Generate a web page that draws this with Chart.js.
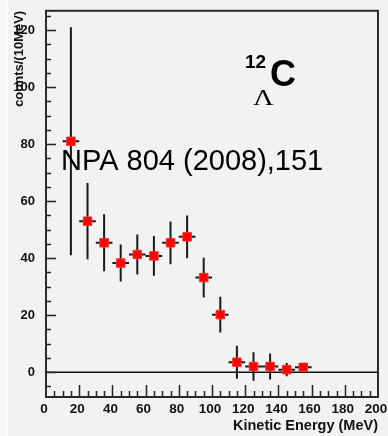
<!DOCTYPE html>
<html lang="en">
<head>
    <meta charset="UTF-8">
    <title>Lambda 12C kinetic energy spectrum</title>
    <script src="https://cdn.jsdelivr.net/npm/chart.js"></script>
    <style>
        body { margin: 0; background: #f2f2f2; }
        #wrap { position: relative; width: 388px; height: 436px; }
        #edge { position: absolute; left: 0; top: 0; width: 7px; height: 436px; background: #f7f7f7; border-right: 1px solid #ffffff; }
        canvas { position: absolute; left: 0; top: 0; }
    </style>
</head>
<body>
    <div id="wrap">
        <div id="edge"></div>
        <canvas id="spectrum" width="388" height="436"></canvas>
    </div>

    <script>
        // bin centers (MeV), counts per 10 MeV and their errors
        const energy = [15, 25, 35, 45, 55, 65, 75, 85, 95, 105, 115, 125, 135, 145, 155];
        const counts = [81, 53, 45.4, 38.3, 41.3, 40.8, 45.4, 47.5, 33.2, 20.2, 3.5, 2.0, 2.0, 0.9, 1.7];
        const errors = [40, 13.4, 10, 6.5, 7, 7, 7.5, 7.5, 7, 6.3, 5.8, 5, 4.6, 2.3, 1.2];
        const binHalfWidth = 5;

        // axis tick labels
        const xTicks = [0, 20, 40, 60, 80, 100, 120, 140, 160, 180, 200];
        const yTicks = [0, 20, 40, 60, 80, 100, 120];

        const points = energy.map((e, i) => ({ x: e, y: counts[i] }));
        const sans = '"Liberation Sans", Arial, sans-serif';

        // ROOT style: inward ticks, frame, zero line, error bars, labels
        const rootStyle = {
            id: 'rootStyle',
            beforeDatasetsDraw(chart) {
                const { ctx, chartArea: a, scales: { x, y } } = chart;
                ctx.save();

                // zero line
                ctx.strokeStyle = '#111';
                ctx.lineWidth = 1.5;
                ctx.beginPath();
                ctx.moveTo(a.left, y.getPixelForValue(0));
                ctx.lineTo(a.right, y.getPixelForValue(0));
                ctx.stroke();

                // error bars
                ctx.strokeStyle = '#1a1a1a';
                ctx.lineWidth = 2;
                energy.forEach((e, i) => {
                    const px = x.getPixelForValue(e);
                    const py = y.getPixelForValue(counts[i]);
                    ctx.beginPath();
                    ctx.moveTo(px, y.getPixelForValue(counts[i] + errors[i]));
                    ctx.lineTo(px, y.getPixelForValue(counts[i] - errors[i]));
                    ctx.moveTo(x.getPixelForValue(e - binHalfWidth), py);
                    ctx.lineTo(x.getPixelForValue(e + binHalfWidth), py);
                    ctx.stroke();
                });
                ctx.restore();
            },
            afterDatasetsDraw(chart) {
                const { ctx, chartArea: a, scales: { x, y } } = chart;
                ctx.save();
                ctx.strokeStyle = '#222';
                ctx.lineWidth = 1.5;
                ctx.beginPath();
                // y ticks pointing into the plot
                for (let v = -5; v <= 125; v += 5) {
                    const py = Math.round(y.getPixelForValue(v)) + 0.5;
                    ctx.moveTo(a.left, py);
                    ctx.lineTo(a.left + (v % 20 === 0 ? 10 : 5), py);
                }
                // x ticks pointing up
                for (let v = 5; v < 200; v += 5) {
                    const px = Math.round(x.getPixelForValue(v)) + 0.5;
                    ctx.moveTo(px, a.bottom);
                    ctx.lineTo(px, a.bottom - (v % 20 === 0 ? 12 : 6));
                }
                ctx.stroke();

                // frame
                ctx.strokeStyle = '#2b2b2b';
                ctx.lineWidth = 2;
                ctx.strokeRect(a.left, a.top, a.right - a.left, a.bottom - a.top);

                // annotations
                ctx.fillStyle = '#000';
                ctx.textBaseline = 'alphabetic';
                ctx.font = '29px ' + sans;
                ctx.fillText('NPA 804 (2008),151', 61, 170);
                ctx.font = 'bold 19px ' + sans;
                ctx.fillText('12', 245, 68);
                ctx.font = 'bold 36px ' + sans;
                ctx.fillText('C', 270, 86);
                // lambda subscript, slightly widened
                ctx.translate(253, 105);
                ctx.scale(1.25, 1);
                ctx.font = '23px "Liberation Serif", "Times New Roman", serif';
                ctx.fillText('Λ', 0, 0);
                ctx.restore();
            }
        };

        const ctx = document.getElementById('spectrum').getContext('2d');
        const chart = new Chart(ctx, {
            type: 'scatter',
            data: {
                datasets: [{
                    label: 'counts',
                    data: points,
                    pointStyle: 'rect',
                    pointRadius: 6,
                    pointHoverRadius: 6,
                    backgroundColor: '#ff0000',
                    borderColor: '#ff3030',
                    borderWidth: 1
                }]
            },
            options: {
                responsive: false,
                animation: false,
                devicePixelRatio: 1,
                layout: { padding: { top: 9, right: 10, left: 0, bottom: 0 } },
                plugins: { legend: { display: false }, tooltip: { enabled: false } },
                scales: {
                    x: {
                        type: 'linear',
                        min: 0,
                        max: 200,
                        afterBuildTicks: s => { s.ticks = xTicks.map(v => ({ value: v })); },
                        afterFit: s => { s.height = 39; },
                        grid: { display: false },
                        border: { display: false },
                        ticks: {
                            color: '#111',
                            padding: -4,
                            labelOffset: -2,
                            maxRotation: 0,
                            autoSkip: false,
                            font: { family: sans, size: 13.5, weight: 'bold' }
                        },
                        title: {
                            display: true,
                            text: 'Kinetic Energy (MeV)',
                            align: 'end',
                            color: '#111',
                            padding: { top: 0, bottom: 1 },
                            font: { family: sans, size: 14.5, weight: 'bold' }
                        }
                    },
                    y: {
                        type: 'linear',
                        min: -8.7,
                        max: 126.8,
                        afterBuildTicks: s => { s.ticks = yTicks.map(v => ({ value: v })); },
                        afterFit: s => { s.width = 46; },
                        grid: { display: false },
                        border: { display: false },
                        ticks: {
                            color: '#111',
                            padding: 3,
                            autoSkip: false,
                            font: { family: sans, size: 13, weight: 'bold' }
                        },
                        title: {
                            display: true,
                            text: 'counts/(10MeV)',
                            align: 'end',
                            color: '#111',
                            padding: { top: 12, bottom: 0 },
                            font: { family: sans, size: 13, weight: 'bold' }
                        }
                    }
                }
            },
            plugins: [rootStyle]
        });
    </script>
</body>
</html>
